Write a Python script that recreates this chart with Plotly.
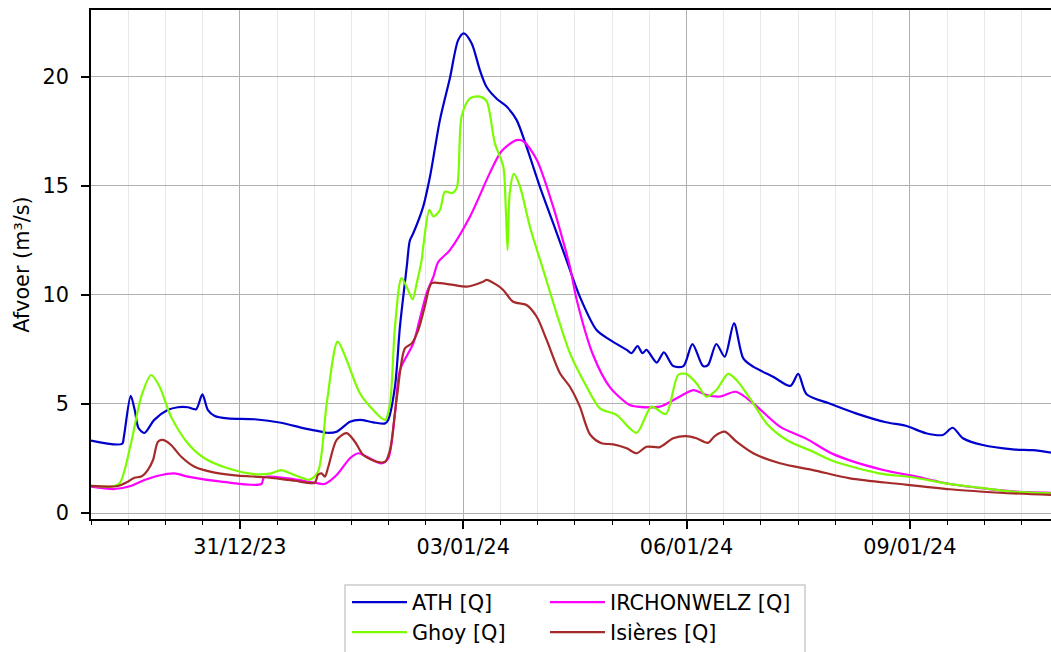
import pandas as pd
import plotly.graph_objects as go

START = pd.Timestamp("2023-12-29 00:00")
END = pd.Timestamp("2024-01-10 21:30")

# hours since 29/12/23 00:00 and discharge (m³/s)
ath_h = [0, 10.0, 10.6, 12.8, 14.1, 15.3, 17.2, 20.4, 24.7, 28.0, 31.2, 33.9, 35.9, 37.7, 39.9, 44.1,
         52.7, 61.3, 68.8, 74.2, 76.0, 79.2, 83.5, 86.7, 91.0, 94.8, 95.8, 98.0, 99.6, 101.8, 102.8,
         103.9, 107.1, 109.3, 112.5, 115.7, 118.4, 120.2, 122.7, 125.4, 127.5, 130.8, 134.0, 137.2,
         140.4, 144.7, 149.0, 153.3, 157.6, 163.0, 167.3, 172.7, 174.3, 176.2, 177.8, 179.1, 182.4,
         184.7, 187.7, 191.0, 193.9, 197.3, 198.9, 201.6, 204.3, 207.3, 210.3, 213.5, 219.9, 225.5,
         228.0, 230.7, 237.9, 246.6, 256.3, 262.7, 269.2, 274.6, 277.8, 281.1, 287.5, 297.2, 303.6, 309.5]
ath_q = [3.32, 3.17, 3.5, 5.37, 4.72, 3.9, 3.67, 4.27, 4.72, 4.85, 4.85, 4.76, 5.44, 4.72, 4.45, 4.34,
         4.30, 4.14, 3.88, 3.73, 3.68, 3.73, 4.19, 4.27, 4.16, 4.11, 4.27, 5.8, 8.55, 11.3, 12.5,
         12.83, 14.05, 15.43, 18.03, 19.94, 21.7, 22.0, 21.55, 20.3, 19.55, 19.0, 18.64, 18.03,
         16.8, 14.97, 13.29, 11.6, 9.92, 8.39, 7.94, 7.48, 7.33, 7.66, 7.33, 7.48, 6.9,
         7.37, 6.74, 6.74, 7.75, 6.74, 6.78, 7.75, 7.17, 8.70, 7.09, 6.71, 6.25, 5.83,
         6.38, 5.45, 5.03, 4.57, 4.16, 4.0, 3.66, 3.58, 3.91, 3.43, 3.12, 2.92, 2.88, 2.77]

ghoy_h = [0, 6.4, 9.2, 12.9, 16.2, 19.4, 22.1, 25.8, 31.2, 36.6, 44.1, 52.7, 58.1, 61.3, 65.6, 70.5,
          73.2, 76.0, 79.5, 82.4, 86.7, 91.0, 94.8, 96.4, 98.0, 100.1, 102.0, 103.7, 105.0, 106.6,
          107.1, 109.1, 110.4, 112.5, 114.1, 116.3, 117.9, 119.5, 122.2, 125.4, 127.5, 130.2, 132.9,
          133.7, 134.3, 135.0, 136.3, 138.3, 141.5, 145.8, 150.1, 154.4, 159.8, 164.1, 169.4, 175.9,
          180.7, 185.3, 189.3, 191.9, 195.2, 198.4, 201.6, 205.4, 208.1, 213.5, 217.8, 224.3, 232.8,
          239.0, 254.0, 264.8, 275.5, 286.3, 297.0, 309.5]
ghoy_q = [1.25, 1.21, 1.36, 3.2, 5.34, 6.33, 5.8, 4.42, 3.2, 2.51, 2.05, 1.78, 1.82, 1.97, 1.74, 1.53,
          1.9, 5.03, 7.86, 7.02, 5.49, 4.72, 4.27, 5.03, 8.55, 10.77, 10.3, 9.8, 10.54, 11.6,
          12.2, 13.9, 13.6, 13.9, 14.74, 14.67, 14.9, 18.2, 19.02, 19.1, 18.9, 16.96, 15.9,
          14.05, 12.06, 14.67, 15.55, 14.97, 13.13, 11.15, 9.16, 7.33, 5.79, 4.8, 4.5, 3.68,
          4.88, 4.54, 6.33, 6.38, 5.95, 5.34, 5.64, 6.38, 6.1, 5.03, 4.11, 3.35, 2.81,
          2.4, 1.82, 1.64, 1.36, 1.16, 0.98, 0.9]

irch_h = [0, 7.6, 12.8, 17.2, 21.6, 26.9, 31.2, 42.0, 54.9, 55.8, 63.4, 72.1, 75.3, 79.2, 83.5, 86.2,
          88.9, 93.7, 95.8, 98.0, 99.6, 103.9, 106.0, 108.2, 110.4, 111.9, 115.7, 122.2, 128.6,
          132.4, 137.2, 139.4, 143.7, 149.0, 151.2, 154.4, 156.6, 162.0, 167.4, 173.7, 176.0, 183.4,
          188.8, 194.2, 198.4, 202.8, 207.9, 213.5, 222.1, 230.7, 239.3, 255.4, 266.1, 276.9, 287.6,
          298.4, 309.5]
irch_q = [1.21, 1.1, 1.24, 1.51, 1.71, 1.82, 1.67, 1.44, 1.33, 1.64, 1.59, 1.39, 1.33, 1.74, 2.51, 2.74,
          2.58, 2.28, 2.5, 4.57, 6.56, 7.78, 8.9, 10.08, 10.84, 11.5, 12.06, 13.6, 15.6,
          16.6, 17.1, 17.05, 16.2, 14.05, 12.98, 11.3, 9.77, 7.2, 5.75, 4.95, 4.88, 4.88,
          5.26, 5.64, 5.41, 5.34, 5.56, 5.03, 3.96, 3.4, 2.7, 1.97, 1.67, 1.33, 1.13,
          0.98, 0.93]

isi_h = [0, 8.7, 11.9, 14.0, 16.2, 18.3, 20.0, 21.6, 23.2, 25.8, 29.1, 33.4, 39.9, 47.3, 56.0, 65.6,
         72.1, 73.2, 74.3, 75.4, 76.5, 79.2, 82.4, 85.1, 87.8, 92.1, 94.8, 96.4, 98.5, 101.2, 103.4,
         105.5, 107.6, 109.8, 112.5, 116.8, 121.1, 126.4, 127.5, 130.8, 132.9, 136.1, 140.4, 143.7,
         146.9, 151.2, 154.4, 157.6, 160.9, 164.6, 168.4, 172.7, 175.9, 179.1, 183.4, 187.7, 191.9,
         195.2, 198.9, 201.1, 204.3, 208.1, 213.5, 222.1, 232.8, 244.7, 260.8, 276.9, 293.0, 309.5]
isi_q = [1.24, 1.24, 1.44, 1.62, 1.67, 1.97, 2.43, 3.27, 3.35, 3.12, 2.58, 2.12, 1.85, 1.71, 1.64, 1.48,
         1.39, 1.75, 1.82, 1.67, 2.12, 3.35, 3.66, 3.27, 2.66, 2.35, 2.35, 2.89, 5.18, 7.55, 7.78,
         8.39, 9.46, 10.54, 10.54, 10.46, 10.38, 10.61, 10.69, 10.46, 10.23, 9.69, 9.54, 9.0,
         7.94, 6.41, 5.79, 4.88, 3.6, 3.2, 3.15, 2.97, 2.74, 3.04, 3.02, 3.43, 3.53,
         3.43, 3.22, 3.53, 3.73, 3.27, 2.74, 2.28, 1.97, 1.59, 1.33, 1.09, 0.93, 0.83]

series_names = ["ATH [Q]", "IRCHONWELZ [Q]", "Ghoy [Q]", "Isières [Q]"]
series_colors = ["#0000CD", "#FF00FF", "#7CFC00", "#A52A2A"]
series_data = [(ath_h, ath_q), (irch_h, irch_q), (ghoy_h, ghoy_q), (isi_h, isi_q)]
legend_ids = ["legend", "legend2", "legend", "legend2"]

FONT = "DejaVu Sans"
FS = 20.8

fig = go.Figure()
for name, color, (hh, qq), lg in zip(series_names, series_colors, series_data, legend_ids):
    t = [START + pd.Timedelta(hours=h) for h in hh]
    fig.add_trace(go.Scatter(x=t, y=qq, mode="lines", name=name,
                             line=dict(color=color, width=2.2, shape="spline", smoothing=0.8),
                             legend=lg))

fig.update_layout(
    width=1051, height=652,
    margin=dict(l=91, r=0, t=10, b=133, autoexpand=False),
    plot_bgcolor="white", paper_bgcolor="white",
    font=dict(family=FONT, size=FS, color="black"),
    showlegend=True,
    legend=dict(x=(347 - 91) / 960, y=-0.124, xanchor="left", yanchor="top", itemwidth=55,
                bgcolor="rgba(0,0,0,0)", font=dict(size=FS), tracegroupgap=0),
    legend2=dict(x=(545 - 91) / 960, y=-0.124, xanchor="left", yanchor="top", itemwidth=55,
                 bgcolor="rgba(0,0,0,0)", font=dict(size=FS), tracegroupgap=0),
    shapes=[dict(type="rect", xref="paper", yref="paper",
                 x0=(345 - 91) / 960, x1=(805 - 91) / 960,
                 y0=(519 - 665) / 509, y1=(519 - 585) / 509,
                 line=dict(color="#cccccc", width=1.5), fillcolor="white", layer="below")],
)

fig.update_xaxes(
    type="date", range=[START, END],
    tick0="2023-12-31", dtick=3 * 86400000, tickformat="%d/%m/%y",
    ticks="outside", ticklen=8, tickwidth=1.7, tickcolor="black",
    showline=True, linecolor="black", linewidth=1.7, mirror=True,
    showgrid=True, gridcolor="#b0b0b0", gridwidth=1.2,
    minor=dict(tick0="2023-12-29", dtick=43200000, ticks="outside", ticklen=4,
               tickwidth=1.4, tickcolor="black", showgrid=True,
               gridcolor="#e8e8e8", gridwidth=1),
    zeroline=False, automargin=False,
)
fig.update_yaxes(
    range=[-0.275, 23.07], tick0=0, dtick=5,
    ticks="outside", ticklen=8, tickwidth=1.7, tickcolor="black", ticklabelstandoff=8,
    showline=True, linecolor="black", linewidth=1.7, mirror=True,
    showgrid=True, gridcolor="#b0b0b0", gridwidth=1.2, zeroline=False, automargin=False,
    title=dict(text="Afvoer (m³/s)", font=dict(size=FS), standoff=7),
)

fig.write_html("out.html", config={"displayModeBar": False},
               post_script="document.body.style.margin='0px';")
